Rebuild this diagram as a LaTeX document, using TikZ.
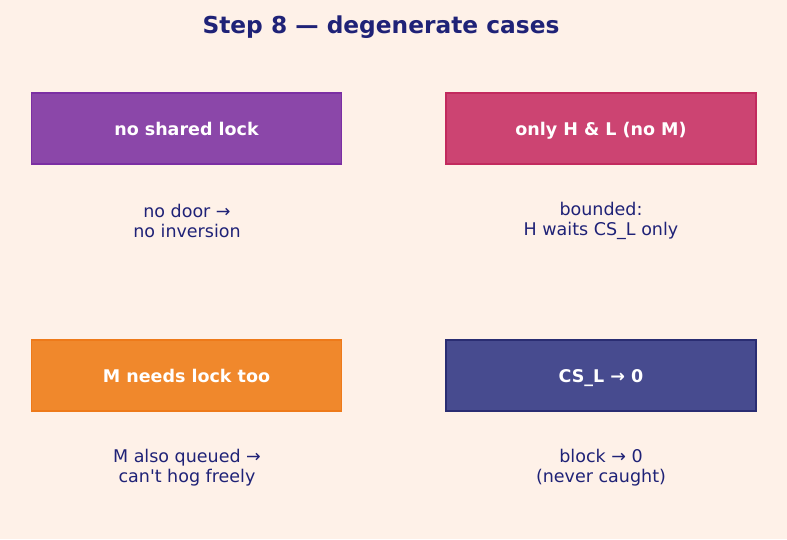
\documentclass[tikz,border=0pt]{standalone}
\usepackage{fontspec}
\setmainfont{DejaVu Sans}
\definecolor{bg}{HTML}{FEF1E8}
\definecolor{ink}{HTML}{1F2277}
\definecolor{purf}{HTML}{8B47A9}
\definecolor{purd}{HTML}{7B2FA3}
\definecolor{pinkf}{HTML}{CC4472}
\definecolor{pinkd}{HTML}{C22A5E}
\definecolor{oraf}{HTML}{F0882C}
\definecolor{orad}{HTML}{EE7A1A}
\definecolor{navf}{HTML}{474B8F}
\definecolor{navd}{HTML}{2A2D72}
\newcommand{\straightquote}{\XeTeXglyph\XeTeXcharglyph"0027\relax}
\tikzset{
  x=1pt,y=-1pt,
  casebox/.style={draw, line width=1.2pt, minimum width=310pt, minimum height=71pt, inner sep=0pt,
    text height=17pt, text depth=3pt,
    text=white, font=\fontsize{17.5}{20}\selectfont\bfseries},
  note/.style={text=ink, align=center, font=\fontsize{17.5}{20}\selectfont, inner sep=0pt},
}
\begin{document}
\begin{tikzpicture}
\fill[bg] (0,0) rectangle (787,539);
\useasboundingbox (0,0) rectangle (787,539);
\node[text=ink, font=\fontsize{23.3}{26}\selectfont\bfseries] (title) at (381,27) {Step 8 — degenerate cases};
\node[casebox, fill=purf, draw=purd] (b1) at (186.5,128.5) {no shared lock};
\node[casebox, fill=pinkf, draw=pinkd] (b2) at (601,128.5) {only H \& L (no M)};
\node[casebox, fill=oraf, draw=orad] (b3) at (186.5,375.5) {M needs lock too};
\node[casebox, fill=navf, draw=navd] (b4) at (601,375.5) {CS\_L → 0};
\node[note] (n1) at (187,221) {no door →\\no inversion};
\node[note] (n2) at (601,221) {bounded:\\H waits CS\_L only};
\node[note] (n3) at (187,468) {M also queued →\\can\straightquote t hog freely};
\node[note] (n4) at (601,468) {block → 0\\(never caught)};
\end{tikzpicture}
\end{document}
